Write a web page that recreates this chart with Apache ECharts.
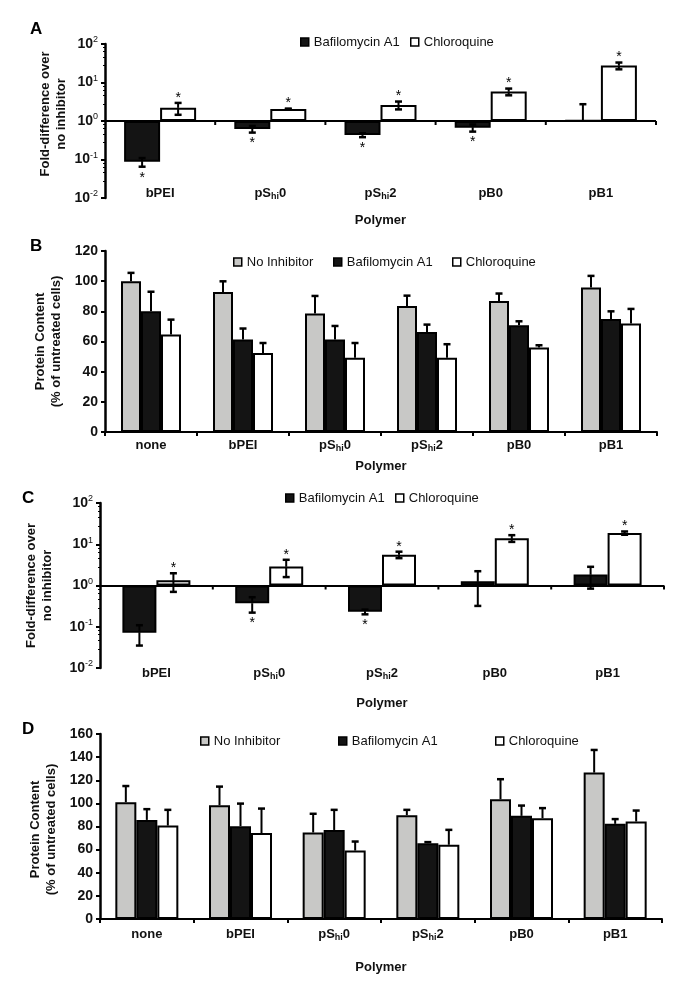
<!DOCTYPE html>
<html><head><meta charset="utf-8">
<script src="https://cdn.jsdelivr.net/npm/echarts@6/dist/echarts.min.js"></script>
<style>html,body{margin:0;padding:0;background:#fff}#c{width:686px;height:989px}</style>
</head><body><div id="c"></div>
<script>
const FONT = '"Liberation Sans", Arial, Helvetica, sans-serif';

// categories
const polymersAC = ['bPEI', 'pShi0', 'pShi2', 'pB0', 'pB1'];
const polymersBD = ['none', 'bPEI', 'pShi0', 'pShi2', 'pB0', 'pB1'];
const seriesNames = ['No Inhibitor', 'Bafilomycin A1', 'Chloroquine'];

// Panel A: fold-difference over no inhibitor (log)
const bafA = [0.087, 0.62, 0.43, 0.67, 1.03];
const bafA_sd = [0.022, 0.12, 0.05, 0.14, 1.7];
const chlA = [2.2, 2.05, 2.6, 5.8, 27.5];
const chlA_sd = [0.75, 0.05, 0.6, 1.15, 5.5];
const starBafA = [1, 1, 1, 1, 0];
const starChlA = [1, 1, 1, 1, 1];

// Panel B: protein content (% of untreated)
const noB = [100, 92.8, 78.5, 83.6, 86.9, 95.8];
const noB_sd = [5.5, 7.1, 11.7, 6.8, 4.9, 7.7];
const bafB = [80, 61.3, 61.3, 66.3, 70.8, 75];
const bafB_sd = [13, 7.3, 9, 4.9, 2.6, 5];
const chlB = [64.6, 52.4, 49.3, 49.3, 56, 71.9];
const chlB_sd = [9.9, 6.6, 9.7, 8.9, 1.5, 9.7];

// Panel C: fold-difference over no inhibitor (log)
const bafC = [0.072, 0.37, 0.23, 1.27, 1.84];
const bafC_sd = [0.037, 0.15, 0.03, 0.95, 1.0];
const chlC = [1.34, 2.9, 5.6, 14.0, 18.7];
const chlC_sd = [0.64, 1.3, 1.0, 2.6, 1.7];
const starBafC = [0, 1, 1, 0, 0];
const starChlC = [1, 1, 1, 1, 1];

// Panel D: protein content (% of untreated)
const noD = [101, 98.4, 74.8, 89.8, 103.6, 126.6];
const noD_sd = [14, 16.1, 16.2, 4.6, 17.3, 19.6];
const bafD = [85.7, 80.3, 77, 65.6, 89.2, 82.3];
const bafD_sd = [9.3, 19.5, 17.4, 0.9, 8.9, 4.1];
const chlD = [80.8, 74.3, 59.2, 64.2, 87.2, 84.3];
const chlD_sd = [13.6, 21.2, 7.8, 12.9, 8.7, 9.5];

const COLORS = { 'No Inhibitor': '#c8c8c6', 'Bafilomycin A1': '#141414', 'Chloroquine': '#ffffff' };
const TXT = '#111';

const chart = echarts.init(document.getElementById('c'), null, { renderer: 'canvas' });

function catFmt(v) {
  const m = /^pShi(.*)$/.exec(v);
  return m ? '{b|pS}{sub|hi}{b|' + m[1] + '}' : '{b|' + v + '}';
}
function logFmt(v) {
  const e = Math.round(Math.log10(v));
  return '{b|10}{sup|' + e + '}';
}
const catRich = {
  b: { fontSize: 13, fontWeight: 'bold', fontFamily: FONT, color: TXT, lineHeight: 16 },
  sub: { fontSize: 9, fontWeight: 'bold', fontFamily: FONT, color: TXT, lineHeight: 10, verticalAlign: 'bottom' }
};
const logRich = {
  b: { fontSize: 14, fontWeight: 'bold', fontFamily: FONT, color: TXT, lineHeight: 17 },
  sup: { fontSize: 9, fontFamily: FONT, color: TXT, lineHeight: 10, verticalAlign: 'top' }
};
const nameStyle = { fontSize: 13, fontWeight: 'bold', fontFamily: FONT, color: TXT, lineHeight: 16 };

const grids = [
  { left: 105, right: 30, top: 44, height: 154 },
  { left: 105, right: 29, top: 251, height: 181 },
  { left: 100, right: 22, top: 503, height: 165 },
  { left: 100, right: 24, top: 734, height: 185 }
];

function xAxisCfg(gi, cats, withLine, margin, nameGap) {
  return {
    type: 'category', gridIndex: gi, data: cats,
    axisLine: { show: withLine, onZero: false, lineStyle: { color: '#000', width: 2 } },
    axisTick: { show: withLine, length: 4, lineStyle: { color: '#000', width: 2 } },
    axisLabel: { margin: margin, formatter: catFmt, rich: catRich, interval: 0 },
    splitLine: { show: false },
    name: 'Polymer', nameLocation: 'middle', nameGap: nameGap, nameTextStyle: nameStyle
  };
}
function yLogCfg(gi, nameGap, pad) {
  return {
    type: 'log', logBase: 10, gridIndex: gi, min: 0.01, max: 100,
    axisLine: { show: true, lineStyle: { color: '#000', width: 2.5 } },
    axisTick: { show: true, length: 4, lineStyle: { color: '#000', width: 2 } },
    minorTick: { show: true, splitNumber: 5, length: 2, lineStyle: { color: '#000', width: 1 } },
    axisLabel: { margin: 7, formatter: logFmt, rich: logRich },
    splitLine: { show: false },
    name: 'Fold-difference over\nno inhibitor', nameLocation: 'middle', nameRotate: 90, nameGap: nameGap,
    nameMoveOverlap: false,
    nameTextStyle: Object.assign({ padding: pad }, nameStyle)
  };
}
function yValCfg(gi, max, nameGap, pad) {
  return {
    type: 'value', gridIndex: gi, min: 0, max: max, interval: 20,
    axisLine: { show: true, lineStyle: { color: '#000', width: 2.5 } },
    axisTick: { show: true, length: 4, lineStyle: { color: '#000', width: 2 } },
    axisLabel: { margin: 7, fontSize: 14, fontWeight: 'bold', fontFamily: FONT, color: TXT },
    splitLine: { show: false },
    name: 'Protein Content\n(% of untreated cells)', nameLocation: 'middle', nameRotate: 90, nameGap: nameGap,
    nameMoveOverlap: false,
    nameTextStyle: Object.assign({ padding: pad }, nameStyle)
  };
}

function barSeries(gi, name, vals, bw, baseline) {
  const s = {
    type: 'bar', name: name, xAxisIndex: gi, yAxisIndex: gi, data: vals,
    barWidth: bw, barGap: '0%', z: 3,
    itemStyle: { color: COLORS[name], borderColor: '#000', borderWidth: 2 }
  };
  if (baseline) {
    s.markLine = {
      silent: true, symbol: ['none', 'none'], label: { show: false },
      lineStyle: { color: '#000', width: 2, type: 'solid' },
      data: [{ yAxis: 1 }]
    };
  }
  return s;
}

function errSeries(gi, vals, sds, stars, idx, n, bw, both) {
  return {
    type: 'custom', xAxisIndex: gi, yAxisIndex: gi, z: 10, silent: true,
    data: vals.map((v, i) => [i, v, sds[i], stars ? stars[i] : 0]),
    encode: { x: 0, y: 1 },
    renderItem: function (params, api) {
      const i = api.value(0), v = api.value(1), s = api.value(2), st = api.value(3);
      const p = api.coord([i, v]);
      const x = p[0] + (idx - (n - 1) / 2) * bw;
      const yv = p[1];
      const yh = api.coord([i, v + s])[1];
      const cap = 3.5;
      const ls = { stroke: '#000', lineWidth: 2 };
      const cs = { stroke: '#000', lineWidth: 2.5 };
      const ch = [];
      ch.push({ type: 'line', shape: { x1: x, y1: yv, x2: x, y2: yh }, style: ls });
      ch.push({ type: 'line', shape: { x1: x - cap, y1: yh, x2: x + cap, y2: yh }, style: cs });
      let yl = null;
      if (both && v - s > 0) {
        yl = api.coord([i, v - s])[1];
        ch.push({ type: 'line', shape: { x1: x, y1: yv, x2: x, y2: yl }, style: ls });
        ch.push({ type: 'line', shape: { x1: x - cap, y1: yl, x2: x + cap, y2: yl }, style: cs });
      }
      if (st) {
        const up = v >= 1;
        const ty = up ? yh - 8 : (yl !== null ? yl : yv) + 8;
        ch.push({ type: 'text', style: { text: '*', x: x, y: ty + 3, align: 'center', verticalAlign: 'middle', font: '14px ' + FONT, fill: '#000' } });
      }
      return { type: 'group', children: ch };
    }
  };
}

function baseTicks(gi, cats) {
  return {
    type: 'custom', xAxisIndex: gi, yAxisIndex: gi, silent: true, z: 9,
    data: cats.map((c, i) => [i, 1]), encode: { x: 0, y: 1 },
    renderItem: function (params, api) {
      const p = api.coord([api.value(0), 1]);
      const w = api.size([1, 0], [api.value(0), 1])[0];
      return { type: 'line', shape: { x1: p[0] + w / 2, y1: p[1], x2: p[0] + w / 2, y2: p[1] + 4 }, style: { stroke: '#000', lineWidth: 2 } };
    }
  };
}

function leg(name, left, centerY) {
  return {
    data: [name], left: left, top: centerY - 7.5, padding: 0, itemWidth: 8, itemHeight: 8,
    icon: 'rect', selectedMode: false,
    itemStyle: { borderColor: '#000', borderWidth: 1.5 },
    textStyle: { fontSize: 13, fontFamily: FONT, color: TXT }
  };
}
function letter(t, left, top) {
  return { text: t, left: left, top: top, padding: 0, textStyle: { fontSize: 17, fontWeight: 'bold', fontFamily: FONT, color: '#000' } };
}

const option = {
  animation: false,
  backgroundColor: '#fff',
  textStyle: { fontFamily: FONT },
  title: [letter('A', 30, 21), letter('B', 30, 238), letter('C', 22, 490), letter('D', 22, 721)],
  legend: [
    leg('Bafilomycin A1', 300, 43), leg('Chloroquine', 410, 43),
    leg('No Inhibitor', 233, 263), leg('Bafilomycin A1', 333, 263), leg('Chloroquine', 452, 263),
    leg('Bafilomycin A1', 285, 499), leg('Chloroquine', 395, 499),
    leg('No Inhibitor', 200, 742), leg('Bafilomycin A1', 338, 742), leg('Chloroquine', 495, 742)
  ],
  grid: grids,
  xAxis: [
    xAxisCfg(0, polymersAC, false, -13, 14),
    xAxisCfg(1, polymersBD, true, 5, 26),
    xAxisCfg(2, polymersAC, false, -3, 27),
    xAxisCfg(3, polymersBD, true, 7, 40)
  ],
  yAxis: [
    yLogCfg(0, 36, [0, 0, 0, 14]),
    yValCfg(1, 120, 41, [0, 0, 0, 0]),
    yLogCfg(2, 45, [0, 0, 0, 0]),
    yValCfg(3, 160, 41, [0, 6, 0, 0])
  ],
  series: [
    // A
    barSeries(0, 'Bafilomycin A1', bafA, 36, true),
    barSeries(0, 'Chloroquine', chlA, 36, false),
    baseTicks(0, polymersAC),
    errSeries(0, bafA, bafA_sd, starBafA, 0, 2, 36, true),
    errSeries(0, chlA, chlA_sd, starChlA, 1, 2, 36, true),
    // B
    barSeries(1, 'No Inhibitor', noB, 20, false),
    barSeries(1, 'Bafilomycin A1', bafB, 20, false),
    barSeries(1, 'Chloroquine', chlB, 20, false),
    errSeries(1, noB, noB_sd, null, 0, 3, 20, false),
    errSeries(1, bafB, bafB_sd, null, 1, 3, 20, false),
    errSeries(1, chlB, chlB_sd, null, 2, 3, 20, false),
    // C
    barSeries(2, 'Bafilomycin A1', bafC, 34, true),
    barSeries(2, 'Chloroquine', chlC, 34, false),
    baseTicks(2, polymersAC),
    errSeries(2, bafC, bafC_sd, starBafC, 0, 2, 34, true),
    errSeries(2, chlC, chlC_sd, starChlC, 1, 2, 34, true),
    // D
    barSeries(3, 'No Inhibitor', noD, 21, false),
    barSeries(3, 'Bafilomycin A1', bafD, 21, false),
    barSeries(3, 'Chloroquine', chlD, 21, false),
    errSeries(3, noD, noD_sd, null, 0, 3, 21, false),
    errSeries(3, bafD, bafD_sd, null, 1, 3, 21, false),
    errSeries(3, chlD, chlD_sd, null, 2, 3, 21, false)
  ]
};
chart.setOption(option);
</script>
</body></html>
